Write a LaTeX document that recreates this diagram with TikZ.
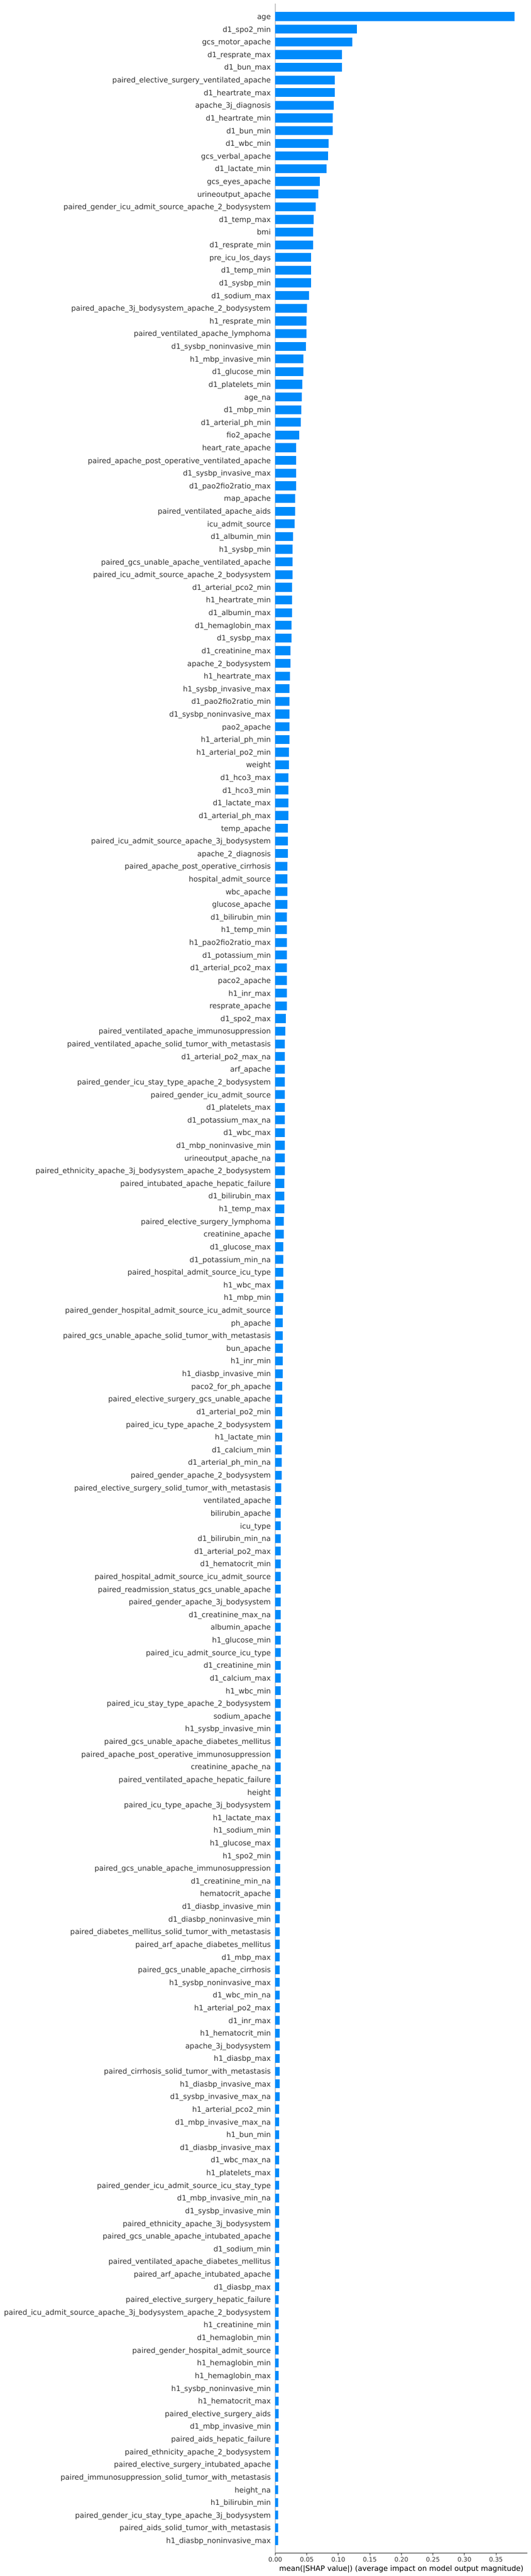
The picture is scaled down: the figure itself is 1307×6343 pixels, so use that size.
\documentclass[tikz,border=0pt]{standalone}
\usepackage{fontspec}
\setmainfont{DejaVu Sans}
\definecolor{shapblue}{HTML}{008BFB}
\definecolor{axgray}{HTML}{333333}
\definecolor{zerogray}{HTML}{999999}
\begin{document}
\begin{tikzpicture}[x=1pt,y=-1pt,
  ylab/.style={anchor=base east, inner sep=0pt, outer sep=0pt, text=axgray, font=\fontsize{18.06}{20}\selectfont},
  barbox/.style={fill=shapblue, draw=none, inner sep=0pt, outer sep=0pt, minimum height=21.86pt, anchor=west},
  ticklab/.style={anchor=base, inner sep=0pt, text=axgray, font=\fontsize{15.28}{17}\selectfont},
  xlab/.style={anchor=base, inner sep=0pt, text=black, font=\fontsize{18.06}{20}\selectfont},
  zeroline/.style={draw=zerogray, line width=2.08pt},
  spine/.style={draw=black, line width=1.11pt},
  tickmark/.style={draw=axgray, line width=1.11pt}]
\useasboundingbox (0,0) rectangle (1307,6343);
\coordinate (ztop) at (678,9.47);
\coordinate (zbot) at (678,6286.7);
\coordinate (xend) at (1299.3,6286.7);
\draw[zeroline] (ztop) -- (zbot);
\foreach \lab/\w [count=\i] in {
age/589.5,
d1_spo2_min/201,
gcs_motor_apache/189.5,
d1_resprate_max/164.5,
d1_bun_max/164,
paired_elective_surgery_ventilated_apache/147,
d1_heartrate_max/146,
apache_3j_diagnosis/144.5,
d1_heartrate_min/141,
d1_bun_min/141,
d1_wbc_min/131,
gcs_verbal_apache/129.5,
d1_lactate_min/126,
gcs_eyes_apache/109.5,
urineoutput_apache/106,
paired_gender_icu_admit_source_apache_2_bodysystem/99.5,
d1_temp_max/94.5,
bmi/93.7,
d1_resprate_min/93,
pre_icu_los_days/88,
d1_temp_min/88,
d1_sysbp_min/88,
d1_sodium_max/83,
paired_apache_3j_bodysystem_apache_2_bodysystem/78,
h1_resprate_min/77,
paired_ventilated_apache_lymphoma/77,
d1_sysbp_noninvasive_min/76,
h1_mbp_invasive_min/69.5,
d1_glucose_min/68.7,
d1_platelets_min/67,
age_na/66,
d1_mbp_min/64.5,
d1_arterial_ph_min/63,
fio2_apache/59.5,
heart_rate_apache/52,
paired_apache_post_operative_ventilated_apache/52,
d1_sysbp_invasive_max/51,
d1_pao2fio2ratio_max/51,
map_apache/49.5,
paired_ventilated_apache_aids/48.7,
icu_admit_source/48,
d1_albumin_min/43.7,
h1_sysbp_min/43,
paired_gcs_unable_apache_ventilated_apache/43,
paired_icu_admit_source_apache_2_bodysystem/42,
d1_arterial_pco2_min/41,
h1_heartrate_min/41,
d1_albumin_max/41,
d1_hemaglobin_max/39.5,
d1_sysbp_max/39.5,
d1_creatinine_max/38,
apache_2_bodysystem/37,
h1_heartrate_max/36,
h1_sysbp_invasive_max/34.5,
d1_pao2fio2ratio_min/34.5,
d1_sysbp_noninvasive_max/34.5,
pao2_apache/34.5,
h1_arterial_ph_min/34.5,
h1_arterial_po2_min/33.7,
weight/33.7,
d1_hco3_max/33,
d1_hco3_min/33,
d1_lactate_max/33,
d1_arterial_ph_max/32,
temp_apache/31,
paired_icu_admit_source_apache_3j_bodysystem/31,
apache_2_diagnosis/31,
paired_apache_post_operative_cirrhosis/30.2,
hospital_admit_source/30.2,
wbc_apache/30.2,
glucose_apache/30.2,
d1_bilirubin_min/29.1,
h1_temp_min/29.1,
h1_pao2fio2ratio_max/29.1,
d1_potassium_min/29.1,
d1_arterial_pco2_max/28.1,
paco2_apache/28.1,
h1_inr_max/28.1,
resprate_apache/28.1,
d1_spo2_max/26.1,
paired_ventilated_apache_immunosuppression/25,
paired_ventilated_apache_solid_tumor_with_metastasis/24,
d1_arterial_po2_max_na/24,
arf_apache/24,
paired_gender_icu_stay_type_apache_2_bodysystem/24,
paired_gender_icu_admit_source/24,
d1_platelets_max/23,
d1_potassium_max_na/23,
d1_wbc_max/23,
d1_mbp_noninvasive_min/23,
urineoutput_apache_na/23,
paired_ethnicity_apache_3j_bodysystem_apache_2_bodysystem/23,
paired_intubated_apache_hepatic_failure/22,
d1_bilirubin_max/22,
h1_temp_max/22,
paired_elective_surgery_lymphoma/21,
creatinine_apache/21,
d1_glucose_max/20,
d1_potassium_min_na/20,
paired_hospital_admit_source_icu_type/20,
h1_wbc_max/20,
h1_mbp_min/20,
paired_gender_hospital_admit_source_icu_admit_source/19,
ph_apache/19,
paired_gcs_unable_apache_solid_tumor_with_metastasis/18,
bun_apache/18,
h1_inr_min/18,
h1_diasbp_invasive_min/18,
paco2_for_ph_apache/17,
paired_elective_surgery_gcs_unable_apache/17,
d1_arterial_po2_min/17,
paired_icu_type_apache_2_bodysystem/17,
h1_lactate_min/17,
d1_calcium_min/16,
d1_arterial_ph_min_na/16,
paired_gender_apache_2_bodysystem/16,
paired_elective_surgery_solid_tumor_with_metastasis/15,
ventilated_apache/15,
bilirubin_apache/14,
icu_type/14,
d1_bilirubin_min_na/14,
d1_arterial_po2_max/14,
d1_hematocrit_min/14,
paired_hospital_admit_source_icu_admit_source/14,
paired_readmission_status_gcs_unable_apache/14,
paired_gender_apache_3j_bodysystem/14,
d1_creatinine_max_na/14,
albumin_apache/14,
h1_glucose_min/12.8,
paired_icu_admit_source_icu_type/12.8,
d1_creatinine_min/12.8,
d1_calcium_max/12.8,
h1_wbc_min/12.8,
paired_icu_stay_type_apache_2_bodysystem/12.8,
sodium_apache/12.8,
h1_sysbp_invasive_min/12.8,
paired_gcs_unable_apache_diabetes_mellitus/12.8,
paired_apache_post_operative_immunosuppression/12.8,
creatinine_apache_na/12.8,
paired_ventilated_apache_hepatic_failure/12.8,
height/12.8,
paired_icu_type_apache_3j_bodysystem/11.8,
h1_lactate_max/11.8,
h1_sodium_min/11.8,
h1_glucose_max/11.8,
h1_spo2_min/11.8,
paired_gcs_unable_apache_immunosuppression/11.8,
d1_creatinine_min_na/11.8,
hematocrit_apache/11.8,
d1_diasbp_invasive_min/11.8,
d1_diasbp_noninvasive_min/10.8,
paired_diabetes_mellitus_solid_tumor_with_metastasis/10.8,
paired_arf_apache_diabetes_mellitus/10.8,
d1_mbp_max/10.8,
paired_gcs_unable_apache_cirrhosis/10.8,
h1_sysbp_noninvasive_max/10.8,
d1_wbc_min_na/10.8,
h1_arterial_po2_max/10.8,
d1_inr_max/10.8,
h1_hematocrit_min/10.8,
apache_3j_bodysystem/10.8,
h1_diasbp_max/10.8,
paired_cirrhosis_solid_tumor_with_metastasis/10.8,
h1_diasbp_invasive_max/10.8,
d1_sysbp_invasive_max_na/10.8,
h1_arterial_pco2_min/9.8,
d1_mbp_invasive_max_na/9.8,
h1_bun_min/9.8,
d1_diasbp_invasive_max/9.8,
d1_wbc_max_na/9.8,
h1_platelets_max/9.8,
paired_gender_icu_admit_source_icu_stay_type/9.8,
d1_mbp_invasive_min_na/9.8,
d1_sysbp_invasive_min/9.8,
paired_ethnicity_apache_3j_bodysystem/9.3,
paired_gcs_unable_apache_intubated_apache/9.3,
d1_sodium_min/9.3,
paired_ventilated_apache_diabetes_mellitus/9.3,
paired_arf_apache_intubated_apache/9.3,
d1_diasbp_max/9.3,
paired_elective_surgery_hepatic_failure/8.7,
paired_icu_admit_source_apache_3j_bodysystem_apache_2_bodysystem/8.7,
h1_creatinine_min/8.2,
d1_hemaglobin_min/8.2,
paired_gender_hospital_admit_source/8.2,
h1_hemaglobin_min/7.8,
h1_hemaglobin_max/7.8,
h1_sysbp_noninvasive_min/7.8,
h1_hematocrit_max/7.8,
paired_elective_surgery_aids/7.8,
d1_mbp_invasive_min/7.8,
paired_aids_hepatic_failure/7.8,
paired_ethnicity_apache_2_bodysystem/7.8,
paired_elective_surgery_intubated_apache/7.0,
paired_immunosuppression_solid_tumor_with_metastasis/7.0,
height_na/7.0,
h1_bilirubin_min/7.0,
paired_gender_icu_stay_type_apache_3j_bodysystem/7.0,
paired_aids_solid_tumor_with_metastasis/7.0,
h1_diasbp_noninvasive_max/7.0%
} {
  \pgfmathsetmacro{\yc}{9.47+\i*31.23}
  \node[barbox, minimum width=\w pt] (b\i) at (678,\yc) {};
  \node[ylab] (l\i) at (667,\yc+6.86) {\expandafter\detokenize\expandafter{\lab}};
}
\draw[spine] (zbot) -- (xend);
\foreach \k/\t in {0/0.00,1/0.05,2/0.10,3/0.15,4/0.20,5/0.25,6/0.30,7/0.35} {
  \coordinate (t\k) at ({678+\k*77.66},6286.7);
  \draw[tickmark] (t\k) -- ++(0,4.86);
  \node[ticklab] (tl\k) at ({678+\k*77.66},6308) {\t};
}
\node[xlab] (xl) at (988.6,6330.9) {mean(|SHAP value|) (average impact on model output magnitude)};
\end{tikzpicture}
\end{document}
